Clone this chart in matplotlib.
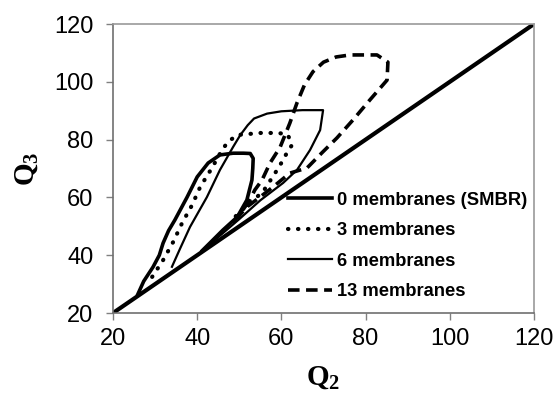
import matplotlib
matplotlib.use('Agg')
import matplotlib.pyplot as plt

plt.rcParams['font.family'] = ['Liberation Sans', 'DejaVu Sans']
plt.rcParams['mathtext.fontset'] = 'custom'
plt.rcParams['mathtext.rm'] = 'Liberation Serif'
plt.rcParams['mathtext.bf'] = 'Liberation Serif:bold'

# diagonal Q3 = Q2
diag = [20, 120]

# 0 membranes (SMBR)
smbr_q2 = [25.9, 27.3, 29.5, 31.0, 31.9, 33.2, 34.7, 37.6, 40.0, 42.6, 45.4, 48.5, 51.0,
           52.6, 53.3, 53.2, 53.0, 51.8, 49.5, 46.1, 43.0, 41.2]
smbr_q3 = [26.5, 31.0, 35.9, 40.0, 44.2, 48.5, 52.2, 60.1, 67.1, 71.9, 74.7, 75.3, 75.3,
           75.2, 73.5, 70.0, 66.0, 59.1, 53.2, 48.7, 44.2, 41.6]

# 3 membranes
m3_q2 = [29.3, 31.9, 34.3, 36.4, 38.8, 40.7, 43.5, 45.9, 47.3, 49.5, 55.0, 59.2, 61.5,
         62.5, 61.3, 60.1, 58.5, 55.6, 52.0, 48.8]
m3_q3 = [32.5, 38.3, 44.6, 51.1, 57.4, 63.6, 70.2, 76.4, 79.2, 81.6, 82.3, 82.3, 81.8,
         78.1, 75.4, 72.2, 68.4, 61.9, 57.5, 53.0]

# 6 membranes
m6_q2 = [34.0, 36.0, 38.3, 42.3, 45.4, 48.5, 50.2, 52.0, 53.5, 56.6, 60.0, 65.0, 69.9,
         69.2, 66.8, 63.7, 60.4, 55.0, 50.0, 46.0, 43.2]
m6_q3 = [36.0, 42.5, 49.8, 60.1, 69.5, 77.4, 81.5, 85.0, 87.3, 89.0, 89.8, 90.2, 90.2,
         83.3, 76.4, 69.5, 65.0, 59.0, 52.5, 47.5, 44.0]

# 13 membranes
m13_q2 = [48.5, 50.2, 52.1, 53.7, 55.4, 57.3, 59.7, 62.0, 63.7, 65.5, 67.5, 70.0, 73.0, 76.3,
          82.7, 85.3, 85.1, 81.0, 77.0, 73.2, 69.6, 66.1, 62.0, 58.0, 54.9, 51.8, 49.5]
m13_q3 = [51.1, 54.6, 58.1, 62.6, 66.0, 71.9, 77.4, 85.7, 92.7, 99.0, 103.5, 106.8, 108.6, 109.3,
          109.3, 106.8, 100.6, 93.7, 86.8, 80.6, 75.4, 70.2, 68.4, 63.6, 60.1, 56.7, 52.9]

labels = ['0 membranes (SMBR)', '3 membranes', '6 membranes', '13 membranes']

fig = plt.figure(figsize=(5.58, 3.99), dpi=100)
ax = fig.add_axes([0.2025, 0.2155, 0.7545, 0.7243])

ax.plot(diag, diag, color='black', lw=3.0, solid_capstyle='butt')
ax.plot(smbr_q2, smbr_q3, color='black', lw=2.6, label=labels[0])
ax.plot(m3_q2, m3_q3, color='black', lw=3.0, linestyle=(0, (0.1, 2.3)),
        dash_capstyle='round', label=labels[1])
ax.plot(m6_q2, m6_q3, color='black', lw=1.6, label=labels[2])
ax.plot(m13_q2, m13_q3, color='black', lw=2.6, linestyle=(0, (3.2, 1.8)), label=labels[3])

ax.set_xlim(20, 120)
ax.set_ylim(20, 120)
ax.set_xticks([20, 40, 60, 80, 100, 120])
ax.set_yticks([20, 40, 60, 80, 100, 120])
ax.tick_params(axis='both', direction='out', length=5, width=1, colors='#808080',
               labelcolor='black', labelsize=17)
ax.tick_params(axis='x', pad=6)
ax.tick_params(axis='y', pad=9)
for s in ax.spines.values():
    s.set_color('#9a9a9a')
    s.set_linewidth(1.2)
ax.spines['left'].set_color('#707070')
ax.spines['bottom'].set_color('#707070')

ax.set_xlabel(r'$\mathbf{Q_2}$', fontsize=21, labelpad=9)
ax.set_ylabel(r'$\mathbf{Q_3}$', fontsize=21, labelpad=10)

ax.legend(loc='upper left', bbox_to_anchor=(0.415, 0.42), frameon=False,
          prop={'weight': 'bold', 'size': 13.2}, handlelength=2.4, handletextpad=0.3,
          labelspacing=0.74, borderpad=0, borderaxespad=0)

fig.savefig('out.png', dpi=100)
